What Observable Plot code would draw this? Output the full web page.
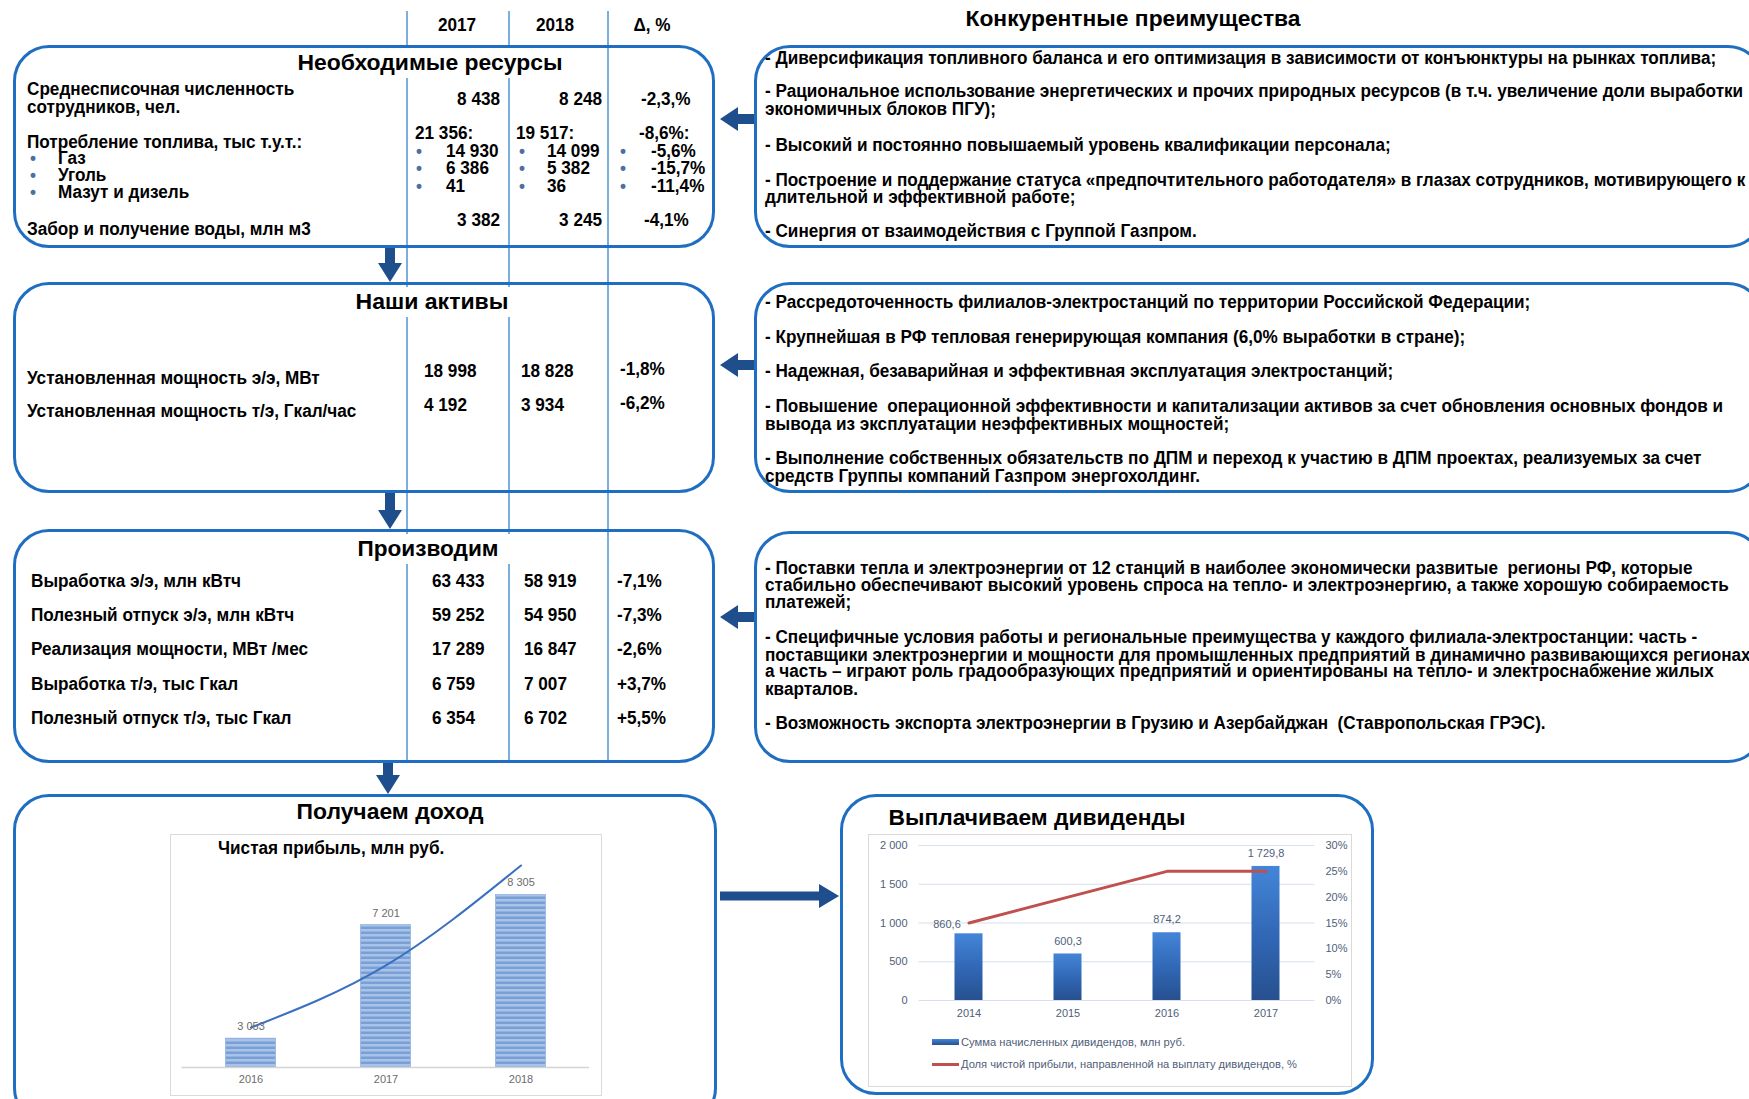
<!DOCTYPE html>
<html lang="ru"><head><meta charset="utf-8">
<script src="https://cdn.jsdelivr.net/npm/d3@7"></script>
<script src="https://cdn.jsdelivr.net/npm/@observablehq/plot@0.6"></script>
<style>
html,body{margin:0;padding:0;background:#fff;}
#page{position:relative;width:1749px;height:1099px;overflow:hidden;background:#fff;}
.t{position:absolute;white-space:pre;line-height:1;color:#000;}
.body{font-weight:bold;font-size:18px;font-family:"Liberation Sans Narrow","Arial Narrow","Liberation Sans",Arial,sans-serif;}
.ttl{font-weight:bold;font-size:22px;font-family:"Liberation Sans",Arial,sans-serif;}
.small{font-size:11px;font-family:"Liberation Sans",Arial,sans-serif;color:#50607a;}
.bul{color:#4f6f9f;}
.box{position:absolute;box-sizing:border-box;border:3px solid #1f6ec2;border-radius:36px;}
.frame{position:absolute;box-sizing:border-box;border:1.5px solid #dadada;background:#fff;}
.plot{position:absolute;}
.sw{position:absolute;}
</style></head><body><div id="page"></div>
<script>
// ---------------- DATA ----------------
const headerCols = ["2017", "2018", "Δ, %"];
const competitiveTitle = "Конкурентные преимущества";
const boxTitles = ["Необходимые ресурсы", "Наши активы", "Производим", "Получаем доход", "Выплачиваем дивиденды"];

const staffLabel = ["Среднесписочная численность", "сотрудников, чел."];
const staffValues = ["8 438", "8 248", "-2,3,%"];
const fuelLabel = "Потребление топлива, тыс т.у.т.:";
const fuelTotals = ["21 356:", "19 517:", "-8,6%:"];
const fuelTypes = ["Газ", "Уголь", "Мазут и дизель"];
const fuel2017 = ["14 930", "6 386", "41"];
const fuel2018 = ["14 099", "5 382", "36"];
const fuelDelta = ["-5,6%", "-15,7%", "-11,4%"];
const waterLabel = "Забор и получение воды, млн м3";
const waterValues = ["3 382", "3 245", "-4,1%"];

const assetLabels = ["Установленная мощность э/э, МВт", "Установленная мощность т/э, Гкал/час"];
const asset2017 = ["18 998", "4 192"];
const asset2018 = ["18 828", "3 934"];
const assetDelta = ["-1,8%", "-6,2%"];

const prodLabels = ["Выработка э/э, млн кВтч", "Полезный отпуск э/э, млн кВтч", "Реализация мощности, МВт /мес", "Выработка т/э, тыс Гкал", "Полезный отпуск т/э, тыс Гкал"];
const prod2017 = ["63 433", "59 252", "17 289", "6 759", "6 354"];
const prod2018 = ["58 919", "54 950", "16 847", "7 007", "6 702"];
const prodDelta = ["-7,1%", "-7,3%", "-2,6%", "+3,7%", "+5,5%"];

const advantages1 = [
  "- Диверсификация топливного баланса и его оптимизация в зависимости от конъюнктуры на рынках топлива;",
  "- Рациональное использование энергетических и прочих природных ресурсов (в т.ч. увеличение доли выработки",
  "экономичных блоков ПГУ);",
  "- Высокий и постоянно повышаемый уровень квалификации персонала;",
  "- Построение и поддержание статуса «предпочтительного работодателя» в глазах сотрудников, мотивирующего к",
  "длительной и эффективной работе;",
  "- Синергия от взаимодействия с Группой Газпром."
];
const advantages2 = [
  "- Рассредоточенность филиалов-электростанций по территории Российской Федерации;",
  "- Крупнейшая в РФ тепловая генерирующая компания (6,0% выработки в стране);",
  "- Надежная, безаварийная и эффективная эксплуатация электростанций;",
  "- Повышение  операционной эффективности и капитализации активов за счет обновления основных фондов и",
  "вывода из эксплуатации неэффективных мощностей;",
  "- Выполнение собственных обязательств по ДПМ и переход к участию в ДПМ проектах, реализуемых за счет",
  "средств Группы компаний Газпром энергохолдинг."
];
const advantages3 = [
  "- Поставки тепла и электроэнергии от 12 станций в наиболее экономически развитые  регионы РФ, которые",
  "стабильно обеспечивают высокий уровень спроса на тепло- и электроэнергию, а также хорошую собираемость",
  "платежей;",
  "- Специфичные условия работы и региональные преимущества у каждого филиала-электростанции: часть -",
  "поставщики электроэнергии и мощности для промышленных предприятий в динамично развивающихся регионах,",
  "а часть – играют роль градообразующих предприятий и ориентированы на тепло- и электроснабжение жилых",
  "кварталов.",
  "- Возможность экспорта электроэнергии в Грузию и Азербайджан  (Ставропольская ГРЭС)."
];

const profitTitle = "Чистая прибыль, млн руб.";
const profitYears = ["2016", "2017", "2018"];
const profitValues = [3053, 7201, 8305];
const profitTrend = [3460, 5730, 9380];   // trend curve at each year

const divYears = ["2014", "2015", "2016", "2017"];
const dividendValues = [860.6, 600.3, 874.2, 1729.8];
const payoutShare = [15, 20, 25, 25];
const dividendTicks = [0, 500, 1000, 1500, 2000];
const shareTicks = [0, 5, 10, 15, 20, 25, 30];
const divLegend = ["Сумма начисленных дивидендов, млн руб.", "Доля чистой прибыли, направленной на выплату дивидендов, %"];

// ---------------- PAGE ----------------
const page = document.getElementById("page");
const items = [];
function T(s, x, y, cls, o = {}) {
  const d = document.createElement("div");
  d.className = "t " + cls;
  d.textContent = s;
  d.style.left = x + "px";
  d.style.top = y + "px";
  if (o.bg) { d.style.background = o.bg; d.style.padding = `4px ${o.pad}px`; }
  d._anchor = o.anchor || "start";
  d._w = o.w; d._pad = o.bg ? o.pad : 0;
  page.appendChild(d);
  items.push(d);
  return d;
}
function div(cls, x, y, w, h, extra = {}) {
  const d = document.createElement("div");
  d.className = cls;
  Object.assign(d.style, {left: x + "px", top: y + "px", width: w + "px", height: h + "px"}, extra);
  page.appendChild(d);
  return d;
}

// overlay: column lines + arrows
const ov = d3.select(page).append("svg").attr("width", 1749).attr("height", 1099)
  .style("position", "absolute").style("left", 0).style("top", 0);
for (const cx of [407, 509, 608]) ov.append("line").attr("x1", cx).attr("x2", cx).attr("y1", 11).attr("y2", 763)
  .attr("stroke", "#5b9bd5").attr("stroke-width", 1.6);
const arrowColor = "#1f4e8c";
function down(cx, y0, y1) {
  ov.append("path").attr("fill", arrowColor).attr("d",
    `M${cx-5},${y0}L${cx+5},${y0}L${cx+5},${y1-19}L${cx+12},${y1-19}L${cx},${y1}L${cx-12},${y1-19}L${cx-5},${y1-19}Z`);
}
function left(x0, x1, y) {
  ov.append("path").attr("fill", arrowColor).attr("d",
    `M${x1},${y-5}L${x0+18},${y-5}L${x0+18},${y-12}L${x0},${y}L${x0+18},${y+12}L${x0+18},${y+5}L${x1},${y+5}Z`);
}
function right(x0, x1, y) {
  ov.append("path").attr("fill", arrowColor).attr("d",
    `M${x0},${y-4.5}L${x1-20},${y-4.5}L${x1-20},${y-12}L${x1},${y}L${x1-20},${y+12}L${x1-20},${y+4.5}L${x0},${y+4.5}Z`);
}
down(390, 248, 282); down(390, 493, 529); down(388, 763, 794);
left(720, 755, 119); left(720, 755, 365); left(720, 755, 617);
right(720, 839, 896);

// boxes
div("box", 13, 45, 702, 203); div("box", 13, 282, 702, 211); div("box", 13, 529, 702, 234);
div("box", 13, 794, 704, 330); div("box", 840, 794, 534, 301);
div("box", 754, 45, 1010, 203); div("box", 754, 282, 1010, 211); div("box", 754, 531, 1010, 232);

// chart frames
div("frame", 170, 834, 432, 262);
div("frame", 868, 834, 484, 253);

// header
T(headerCols[0], 457, 25, "body", {anchor: "middle"});
T(headerCols[1], 555, 25, "body", {anchor: "middle"});
T(headerCols[2], 652, 25, "body", {anchor: "middle"});
T(competitiveTitle, 1133, 19, "ttl", {anchor: "middle", w: 335});

// titles
T(boxTitles[0], 430, 63, "ttl", {anchor: "middle", w: 265, bg: "#fff", pad: 10});
T(boxTitles[1], 432, 302, "ttl", {anchor: "middle", w: 153, bg: "#fff", pad: 10});
T(boxTitles[2], 428, 549, "ttl", {anchor: "middle", w: 141, bg: "#fff", pad: 12});
T(boxTitles[3], 390, 812, "ttl", {anchor: "middle", w: 187});

// box 1
T(staffLabel[0], 27, 89, "body"); T(staffLabel[1], 27, 107, "body");
T(staffValues[0], 500, 99, "body", {anchor: "end"});
T(staffValues[1], 602, 99, "body", {anchor: "end"});
T(staffValues[2], 641, 99, "body");
T(fuelLabel, 27, 142, "body");
const fuelY = [158, 175, 192], fuelVY = [151, 168, 186];
fuelTypes.forEach((s, i) => { T("•", 30, fuelY[i], "body bul"); T(s, 58, fuelY[i], "body"); });
T(fuelTotals[0], 415, 133, "body"); T(fuelTotals[1], 516, 133, "body"); T(fuelTotals[2], 639, 133, "body");
fuel2017.forEach((s, i) => { T("•", 416, fuelVY[i], "body bul"); T(s, 446, fuelVY[i], "body"); });
fuel2018.forEach((s, i) => { T("•", 519, fuelVY[i], "body bul"); T(s, 547, fuelVY[i], "body"); });
fuelDelta.forEach((s, i) => { T("•", 620, fuelVY[i], "body bul"); T(s, 651, fuelVY[i], "body"); });
T(waterLabel, 27, 229, "body");
T(waterValues[0], 500, 220, "body", {anchor: "end"});
T(waterValues[1], 602, 220, "body", {anchor: "end"});
T(waterValues[2], 644, 220, "body");

// box 2
const assetY = [378, 411], assetVY = [371, 405];
assetLabels.forEach((s, i) => {
  T(s, 27, assetY[i], "body");
  T(asset2017[i], 424, assetVY[i], "body");
  T(asset2018[i], 521, assetVY[i], "body");
  T(assetDelta[i], 620, assetVY[i] - 2, "body");
});

// box 3
const prodY = [581, 615, 649, 684, 718];
prodLabels.forEach((s, i) => {
  T(s, 31, prodY[i], "body");
  T(prod2017[i], 432, prodY[i], "body");
  T(prod2018[i], 524, prodY[i], "body");
  T(prodDelta[i], 617, prodY[i], "body");
});

// advantages
const adv1Y = [58, 91, 109, 145, 180, 197, 231];
const adv2Y = [302, 337, 371, 406, 424, 458, 476];
const adv3Y = [568, 585, 602, 637, 655, 671, 689, 723];
advantages1.forEach((s, i) => T(s, 765, adv1Y[i], "body"));
advantages2.forEach((s, i) => T(s, 765, adv2Y[i], "body"));
advantages3.forEach((s, i) => T(s, 765, adv3Y[i], "body"));

// ---------------- CHART 1: net profit ----------------
const ru = d3.formatLocale({decimal: ",", thousands: " ", grouping: [3], currency: ["", ""]});
const fmtInt = ru.format(",d"), fmt1 = ru.format(",.1f");
const profitData = profitYears.map((y, i) => ({year: y, value: profitValues[i], trend: profitTrend[i]}));
const p1 = Plot.plot({
  width: 432, height: 262,
  marginLeft: 11.5, marginRight: 13, marginTop: 14, marginBottom: 29,
  x: {domain: profitYears, padding: 0, label: null},
  y: {domain: [2000, 10000], axis: null, label: null},
  style: {background: "transparent", fontFamily: "'Liberation Sans', Arial, sans-serif", overflow: "visible"},
  marks: [
    Plot.barY(profitData, {x: "year", y1: 2000, y2: "value", fill: "url(#stripes)", stroke: "#94b4e0", strokeWidth: 0.8, insetLeft: 42.5, insetRight: 42.5}),
    Plot.ruleY([2000], {stroke: "#d4d4d4", strokeWidth: 1.5}),
    Plot.line(profitData, {x: "year", y: "trend", curve: "natural", stroke: "#3a70c0", strokeWidth: 2}),
    Plot.text(profitData, {x: "year", y: "value", text: d => fmtInt(d.value), dy: -12, fill: "#6b6b6b", fontSize: 11}),
    Plot.axisX({tickSize: 0, tickPadding: 8, fontSize: 11, color: "#6b6b6b"})
  ]
});
{
  const defs = d3.select(p1).insert("defs", ":first-child");
  const pat = defs.append("pattern").attr("id", "stripes").attr("patternUnits", "userSpaceOnUse")
    .attr("width", 10).attr("height", 5);
  pat.append("rect").attr("width", 10).attr("height", 5).attr("fill", "#789fd6");
  pat.append("rect").attr("width", 10).attr("height", 2.5).attr("fill", "#a9c3e8");
}
const w1 = document.createElement("div"); w1.className = "plot";
Object.assign(w1.style, {left: "170px", top: "834px"});
w1.appendChild(p1); page.appendChild(w1);
T(profitTitle, 218, 848, "body");

// ---------------- CHART 2: dividends ----------------
const k = 2000 / 30;
const divData = divYears.map((y, i) => ({year: y, value: dividendValues[i], share: payoutShare[i]}));
const p2 = Plot.plot({
  width: 488, height: 198,
  marginLeft: 50.5, marginRight: 41.5, marginTop: 11, marginBottom: 32,
  x: {domain: divYears, padding: 0, label: null},
  y: {domain: [0, 2000], axis: null, label: null},
  style: {background: "transparent", fontFamily: "'Liberation Sans', Arial, sans-serif", fontSize: "11px", overflow: "visible"},
  marks: [
    Plot.gridY(dividendTicks, {stroke: "#d6e0ee", strokeOpacity: 1, strokeWidth: 1}),
    Plot.axisY(dividendTicks, {anchor: "left", tickSize: 0, tickPadding: 11.5, tickFormat: fmtInt, color: "#50607a", fontSize: 11, label: null}),
    Plot.axisY(shareTicks.map(s => s * k), {anchor: "right", tickSize: 0, tickPadding: 10.5, tickFormat: d => Math.round(d / k) + "%", color: "#50607a", fontSize: 11, label: null}),
    Plot.barY(divData, {x: "year", y: "value", fill: "url(#divGrad)", insetLeft: 35.5, insetRight: 35.5}),
    Plot.line(divData, {x: "year", y: d => d.share * k, stroke: "#c0504d", strokeWidth: 3}),
    Plot.text(divData, {filter: (d, i) => i === 0, x: "year", y: "value", text: d => fmt1(d.value), dy: -9, dx: -22, fill: "#50607a", fontSize: 11}),
    Plot.text(divData, {filter: (d, i) => i > 0, x: "year", y: "value", text: d => fmt1(d.value), dy: -13, fill: "#50607a", fontSize: 11}),
    Plot.axisX({tickSize: 0, tickPadding: 9, fontSize: 11, color: "#50607a"})
  ]
});
{
  const defs = d3.select(p2).insert("defs", ":first-child");
  const g = defs.append("linearGradient").attr("id", "divGrad").attr("x1", 0).attr("y1", 0).attr("x2", 0).attr("y2", 1);
  g.append("stop").attr("offset", 0).attr("stop-color", "#4485d8");
  g.append("stop").attr("offset", 0.55).attr("stop-color", "#3066b3");
  g.append("stop").attr("offset", 1).attr("stop-color", "#27508f");
}
const w2 = document.createElement("div"); w2.className = "plot";
Object.assign(w2.style, {left: "868px", top: "834px"});
w2.appendChild(p2); page.appendChild(w2);
T(boxTitles[4], 1037, 818, "ttl", {anchor: "middle", w: 297, bg: "#fff", pad: 8});
div("sw", 932, 1039, 27, 6, {background: "linear-gradient(#4485d8,#27508f)"});
div("sw", 932, 1062.5, 27, 3, {background: "#c0504d"});
T(divLegend[0], 961, 1042, "small", {w: 224});
T(divLegend[1], 961, 1064, "small", {w: 336});

// ---------------- FIT TEXT ----------------
const calib = document.createElement("div");
calib.className = "t body"; calib.textContent = prodLabels[0];
page.appendChild(calib);
const bodyK = 210 / calib.getBoundingClientRect().width;
calib.remove();
for (const d of items) {
  const full = d.getBoundingClientRect().width;
  const tw = full - 2 * d._pad;
  let s = d._w ? d._w / tw : (d.classList.contains("body") ? bodyK : 1);
  if (!isFinite(s) || s <= 0) s = 1;
  const tx = d._anchor === "middle" ? "-50%" : d._anchor === "end" ? "-100%" : "0";
  d.style.transformOrigin = d._anchor === "middle" ? "50% 50%" : d._anchor === "end" ? "100% 50%" : "0 50%";
  d.style.transform = `translate(${tx},-50%) scaleX(${s})`;
}
</script></body></html>
